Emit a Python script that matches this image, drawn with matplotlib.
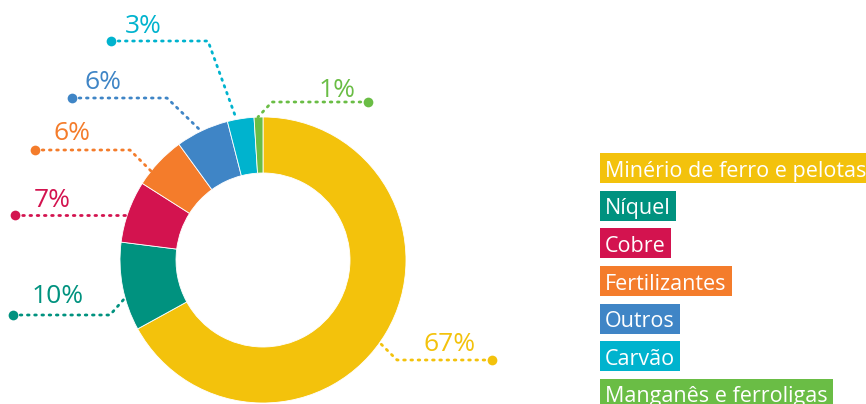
import matplotlib
matplotlib.use("Agg")
import matplotlib.pyplot as plt
from matplotlib.patches import Rectangle
import numpy as np

# ---- data ----
categories = ["Minério de ferro e pelotas", "Níquel", "Cobre", "Fertilizantes",
              "Outros", "Carvão", "Manganês e ferroligas"]
values = [67, 10, 7, 6, 6, 3, 1]
pct_labels = ["67%", "10%", "7%", "6%", "6%", "3%", "1%"]
colors = ["#F3C20C", "#00927F", "#D3134F", "#F47C2B", "#3F85C6", "#00B3CE", "#6ABD45"]

# ---- layout (pixel coordinates, y measured from top) ----
W, H = 866, 404
cx, cy, R, Rin = 263, 260, 143, 87
# (dot x, dot y, elbow x, label center x, label baseline y)
leaders = [
    (492, 360, 397, 450, 351),   # 67%
    (13, 315, 110, 58, 303),     # 10%
    (15, 215, 127, 52, 207),     # 7%
    (35, 150, 130, 72, 140),     # 6% orange
    (72, 98, 167, 103, 89),      # 6% blue
    (111, 41, 208, 143, 33),     # 3%
    (368, 102, 272, 337, 97),    # 1%
]
anchors = [(380, 343), (125, 298), (127, 215), (152, 172), (200, 130), (236, 118), (258, 117)]

FONT = "Open Sans"

def Y(py):
    return H - py

fig = plt.figure(figsize=(W / 100, H / 100), dpi=100)
ax = fig.add_axes([0, 0, 1, 1])

ax.pie(values, colors=colors, startangle=90, counterclock=False, radius=R,
       center=(cx, Y(cy)),
       wedgeprops=dict(width=R - Rin, edgecolor="white", linewidth=0.6))

ax.set_xlim(0, W)
ax.set_ylim(0, H)
ax.set_aspect("equal")
ax.axis("off")

for (dx, dy, ex, lx, ly), (axx, ayy), col, lab in zip(leaders, anchors, colors, pct_labels):
    ax.plot([dx, ex, axx], [Y(dy), Y(dy), Y(ayy)], color=col, lw=2.0,
            linestyle=(0, (0.6, 2.0)), dash_capstyle="round", solid_capstyle="round")
    ax.plot([dx], [Y(dy)], "o", color=col, markersize=7, markeredgewidth=0)
    ax.text(lx, Y(ly), lab, color=col, fontsize=19, ha="center", va="baseline",
            family=FONT)

# legend boxes
fig.canvas.draw()
renderer = fig.canvas.get_renderer()
base0, step = 176.7, 37.6
for i, (cat, col) in enumerate(zip(categories, colors)):
    b = base0 + i * step
    t = ax.text(605, Y(b), cat, color="white", fontsize=15.5, ha="left",
                va="baseline", family=FONT, zorder=5)
    ext = t.get_window_extent(renderer=renderer)
    right = ext.x1 + 5
    ax.add_patch(Rectangle((600, Y(b + 6.5)), right - 600, 30, facecolor=col,
                           edgecolor="none", zorder=4))

fig.savefig("out.png", dpi=100)
